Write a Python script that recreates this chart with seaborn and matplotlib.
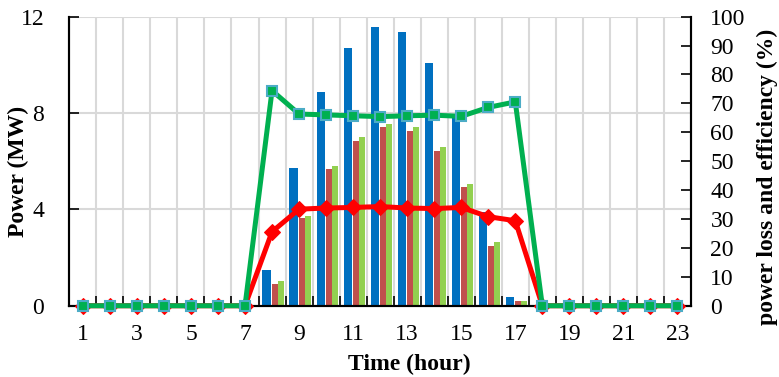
import numpy as np
import matplotlib
matplotlib.use("Agg")
import matplotlib.pyplot as plt
import seaborn as sns

# Data
hours = np.arange(1, 24)
power_blue = [0, 0, 0, 0, 0, 0, 0, 1.48, 5.70, 8.89, 10.69, 11.56, 11.35, 10.07,
              7.90, 3.90, 0.36, 0, 0, 0, 0, 0, 0]
power_red = [0, 0, 0, 0, 0, 0, 0, 0.90, 3.65, 5.66, 6.85, 7.43, 7.27, 6.44,
             4.94, 2.49, 0.18, 0, 0, 0, 0, 0, 0]
power_green = [0, 0, 0, 0, 0, 0, 0, 1.04, 3.74, 5.80, 6.99, 7.55, 7.42, 6.59,
               5.04, 2.63, 0.19, 0, 0, 0, 0, 0, 0]
loss_pct = [0, 0, 0, 0, 0, 0, 0, 25.6, 33.4, 33.8, 34.0, 34.3, 33.8, 33.6,
            34.0, 30.8, 29.4, 0, 0, 0, 0, 0, 0]
eff_pct = [0, 0, 0, 0, 0, 0, 0, 74.4, 66.3, 66.0, 65.7, 65.4, 65.7, 65.9,
           65.5, 68.6, 70.5, 0, 0, 0, 0, 0, 0]
x_labels = [str(h) for h in range(1, 24, 2)]

BLUE = "#0070C0"
RED_BAR = "#C0504D"
GREEN_BAR = "#92D050"
GRID = "#D9D9D9"

sns.set_theme(style="white")
plt.rcParams["font.family"] = ["Liberation Serif", "DejaVu Serif"]
plt.rcParams["text.color"] = "black"
plt.rcParams["xtick.color"] = "black"
plt.rcParams["ytick.color"] = "black"

fig = plt.figure(figsize=(7.79, 3.77), dpi=100)
ax = fig.add_axes([0.089, 0.189, 0.798, 0.767])

# bars (blue is wider and sits left of centre, like the original)
bar_kw = dict(native_scale=True, saturation=1, errorbar=None, linewidth=0,
              ax=ax, zorder=2)
sns.barplot(x=hours - 0.2, y=power_blue, width=0.31, color=BLUE, **bar_kw)
sns.barplot(x=hours + 0.1, y=power_red, width=0.21, color=RED_BAR, **bar_kw)
sns.barplot(x=hours + 0.32, y=power_green, width=0.22, color=GREEN_BAR, **bar_kw)

ax.set_xlim(0.5, 23.5)
ax.set_ylim(0, 12)
ax.set_yticks([0, 4, 8, 12])
ax.set_xticks(range(1, 24, 2))
ax.set_xticklabels(x_labels)
ax.set_xticks(np.arange(1.5, 23.5, 1), minor=True)
ax.grid(axis="y", which="major", color=GRID, linewidth=1.5, zorder=0)
ax.grid(axis="x", which="minor", color=GRID, linewidth=1.5, zorder=0)
ax.grid(axis="x", which="major", visible=False)
ax.set_axisbelow(True)
ax.tick_params(axis="x", which="major", length=0, labelsize=17, pad=13,
               labelcolor="black")
ax.tick_params(axis="x", which="minor", direction="in", length=7, width=1.2,
               color="black", bottom=True)
ax.tick_params(axis="y", direction="in", length=7, width=1.2, color="black",
               labelsize=17, left=True, pad=18, labelcolor="black")
ax.set_xlabel("")
ax.set_ylabel("")
for side in ["left", "bottom", "right"]:
    ax.spines[side].set_color("black")
    ax.spines[side].set_linewidth(1.5)
ax.spines["top"].set_visible(False)

# lines on the percentage axis
ax2 = ax.twinx()
sns.lineplot(x=hours, y=loss_pct, ax=ax2, color="#FF0000", linewidth=3.6,
             marker="D", markersize=8, markeredgecolor="#FF0000",
             markerfacecolor="#FF0000", clip_on=False, zorder=3)
sns.lineplot(x=hours, y=eff_pct, ax=ax2, color="#00B050", linewidth=3.6,
             marker="s", markersize=7, markeredgecolor="#4BACC6",
             markeredgewidth=1.5, markerfacecolor="#00B050",
             clip_on=False, zorder=4)
ax2.set_ylim(0, 100)
ax2.set_yticks(range(0, 101, 10))
ax2.tick_params(axis="y", direction="in", length=7, width=1.2, color="black",
                labelsize=17, right=True, pad=14, labelcolor="black")
ax2.set_ylabel("")
ax2.grid(False)
for side in ["left", "bottom", "right"]:
    ax2.spines[side].set_color("black")
    ax2.spines[side].set_linewidth(1.5)
ax2.spines["top"].set_visible(False)

fig.text(0.526, 0.033, "Time (hour)", ha="center", va="center",
         fontsize=17, fontweight="bold")
fig.text(0.024, 0.545, "Power (MW)", ha="center", va="center",
         rotation=90, fontsize=17, fontweight="bold")
fig.text(0.985, 0.53, "power loss and efficiency (%)", ha="center",
         va="center", rotation=90, fontsize=17, fontweight="bold")

fig.savefig("out.png", dpi=100)
